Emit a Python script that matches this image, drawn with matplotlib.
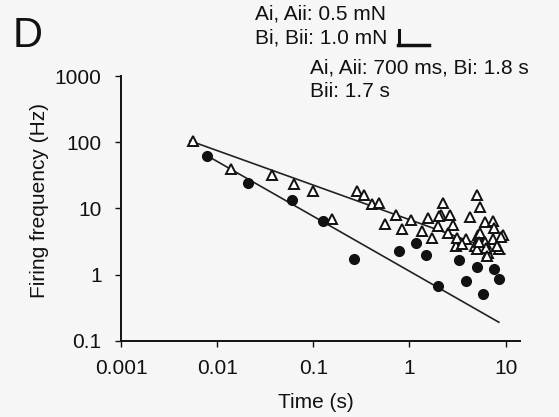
import matplotlib
matplotlib.use("Agg")
import matplotlib.pyplot as plt
from matplotlib.lines import Line2D

plt.rcParams['font.family'] = ['Liberation Sans', 'DejaVu Sans']

# open triangles (Bii) - time (s), firing frequency (Hz)
tri_x = [0.0056, 0.0139, 0.037, 0.063, 0.10, 0.156, 0.284, 0.336, 0.406, 0.48,
         0.555, 0.72, 0.83, 1.03, 1.35, 1.55, 1.71, 1.97, 2.12, 2.22,
         2.51, 2.63, 2.83, 3.04, 3.1, 4.25, 5.0, 5.4, 6.1, 7.4,
         7.5, 4.8, 6.5, 5.1, 6.1, 7.4, 8.5, 9.4, 8.1, 3.86,
         3.5, 5.4, 6.3, 6.4, 5.0, 9.0, 5.3, 2.05]
tri_y = [105, 40, 32, 23, 18.5, 7.0, 18.5, 16, 11.8, 12.2,
         5.9, 8.0, 4.9, 6.75, 4.6, 7.2, 3.6, 5.5, 8.0, 12.2,
         4.3, 8.0, 5.7, 2.74, 3.6, 7.5, 16.1, 10.6, 6.3, 6.5,
         5.1, 2.74, 2.15, 3.9, 3.1, 3.5, 2.4, 4.0, 2.74, 3.5,
         2.9, 4.2, 2.55, 1.9, 2.4, 3.7, 3.1, 7.6]

# filled circles
dot_x = [0.0078, 0.021, 0.06, 0.126, 0.264, 0.78, 1.17, 1.48, 1.97, 3.27,
         3.86, 5.0, 5.8, 7.5, 8.5]
dot_y = [62, 24.4, 13.5, 6.5, 1.74, 2.3, 3.0, 1.94, 0.68, 1.68,
         0.81, 1.32, 0.50, 1.23, 0.87]

# power-law fit lines (end points)
fit_tri_x = [0.0052, 9.8]
fit_tri_y = [105, 2.05]
fit_dot_x = [0.0075, 8.5]
fit_dot_y = [65, 0.19]

xticks = [0.001, 0.01, 0.1, 1, 10]
xtick_labels = ['0.001', '0.01', '0.1', '1', '10']
yticks = [0.1, 1, 10, 100, 1000]
ytick_labels = ['0.1', '1', '10', '100', '1000']

W, H = 559, 417
bg = '#f6f6f6'
fig = plt.figure(figsize=(W / 100, H / 100), dpi=100, facecolor=bg)
ax = fig.add_axes([121 / W, 1 - 340.7 / H, (520 - 121) / W, (340.7 - 76) / H])
ax.set_facecolor(bg)

ax.plot(fit_tri_x, fit_tri_y, color='#222222', lw=1.2)
ax.plot(fit_dot_x, fit_dot_y, color='#222222', lw=1.2)
ax.plot(tri_x, tri_y, ls='none', marker='^', ms=7.5, mfc='white',
        mec='#111111', mew=1.4)
ax.plot(dot_x, dot_y, ls='none', marker='o', ms=7, mfc='#111111', mec='#111111')

ax.set_xscale('log')
ax.set_yscale('log')
ax.set_xlim(0.001, 14.1)
ax.set_ylim(0.1, 1000)
ax.set_xticks(xticks)
ax.set_xticklabels(xtick_labels)
ax.set_yticks(yticks)
ax.set_yticklabels(ytick_labels)
ax.minorticks_off()

for s in ['top', 'right']:
    ax.spines[s].set_visible(False)
for s in ['left', 'bottom']:
    ax.spines[s].set_linewidth(1.4)
    ax.spines[s].set_color('#111111')
ax.tick_params(direction='out', length=4, width=1, labelsize=15, pad=9,
               colors='#111111')
ax.tick_params(axis='y', pad=10)

def ftext(x, y, s, **kw):
    fig.text(x / W, 1 - y / H, s, color='#111111', **kw)

ftext(13, 47, 'D', fontsize=30, va='baseline')
ftext(255, 19, 'Ai, Aii: 0.5 mN', fontsize=15, va='baseline')
ftext(255, 43, 'Bi, Bii: 1.0 mN', fontsize=15, va='baseline')
ftext(310, 73, 'Ai, Aii: 700 ms, Bi: 1.8 s', fontsize=15, va='baseline')
ftext(310, 97, 'Bii: 1.7 s', fontsize=15, va='baseline')
ftext(40, 200, 'Firing frequency (Hz)', fontsize=15, rotation=90,
      ha='center', va='center')
ftext(316, 408, 'Time (s)', fontsize=15, ha='center', va='baseline')

# scale bar
fig.add_artist(Line2D([399 / W, 399 / W], [1 - 30 / H, 1 - 45 / H],
                      color='#111111', lw=2.2))
fig.add_artist(Line2D([398 / W, 429 / W], [1 - 44.5 / H, 1 - 44.5 / H],
                      color='#111111', lw=2.5))

fig.savefig('out.png', dpi=100, facecolor=bg)
